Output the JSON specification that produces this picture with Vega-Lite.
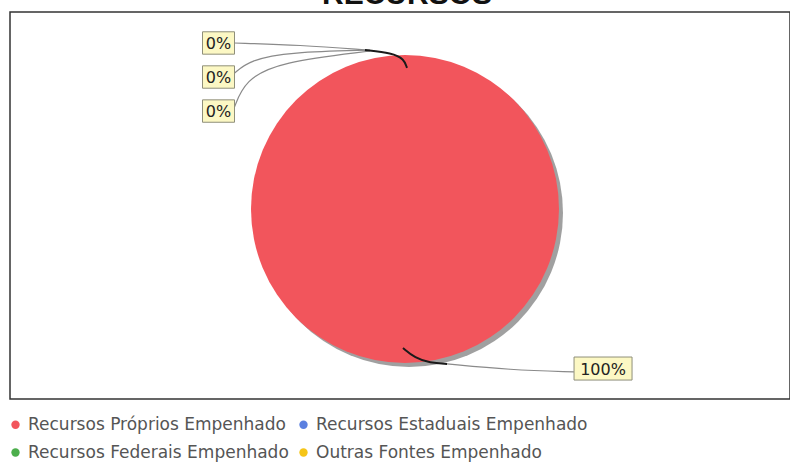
{
  "$schema": "https://vega.github.io/schema/vega-lite/v6.json",
  "autosize": {"type": "none"},
  "width": 780,
  "height": 387,
  "padding": {"left": 10, "top": 12, "right": 0, "bottom": 67},
  "background": "white",
  "config": {
    "view": {"stroke": "#333", "strokeWidth": 1.5},
    "legend": {"padding": 0}
  },
  "datasets": {
    "pie": [
      {"cat": "Recursos Próprios Empenhado", "v": 100},
      {"cat": "Recursos Estaduais Empenhado", "v": 0},
      {"cat": "Recursos Federais Empenhado", "v": 0},
      {"cat": "Outras Fontes Empenhado", "v": 0}
    ],
    "heading": [
      {"txt": "RECURSOS", "lx": 0.013, "ly": 1.331}
    ],
    "labels": [
      {"txt": "0%", "lx": -1.211, "ly": 1.078, "kind": "small"},
      {"txt": "0%", "lx": -1.211, "ly": 0.857, "kind": "small"},
      {"txt": "0%", "lx": -1.211, "ly": 0.636, "kind": "small"},
      {"txt": "100%", "lx": 1.286, "ly": -1.036, "kind": "big"}
    ],
    "links": [
      {"seg": "A", "o": 1, "lx": -1.110, "ly": 1.078, "tone": "grey"},
      {"seg": "A", "o": 2, "lx": -0.682, "ly": 1.065, "tone": "grey"},
      {"seg": "A", "o": 3, "lx": -0.247, "ly": 1.032, "tone": "grey"},
      {"seg": "B", "o": 1, "lx": -1.110, "ly": 0.880, "tone": "grey"},
      {"seg": "B", "o": 2, "lx": -1.006, "ly": 0.968, "tone": "grey"},
      {"seg": "B", "o": 3, "lx": -0.747, "ly": 1.019, "tone": "grey"},
      {"seg": "B", "o": 4, "lx": -0.227, "ly": 1.032, "tone": "grey"},
      {"seg": "C", "o": 1, "lx": -1.110, "ly": 0.655, "tone": "grey"},
      {"seg": "C", "o": 2, "lx": -1.039, "ly": 0.838, "tone": "grey"},
      {"seg": "C", "o": 3, "lx": -0.812, "ly": 0.955, "tone": "grey"},
      {"seg": "C", "o": 4, "lx": -0.227, "ly": 1.026, "tone": "grey"},
      {"seg": "F", "o": 1, "lx": 0.273, "ly": -1.006, "tone": "grey"},
      {"seg": "F", "o": 2, "lx": 0.682, "ly": -1.045, "tone": "grey"},
      {"seg": "F", "o": 3, "lx": 1.097, "ly": -1.058, "tone": "grey"},
      {"seg": "D", "o": 1, "lx": -0.260, "ly": 1.032, "tone": "dark"},
      {"seg": "D", "o": 2, "lx": -0.084, "ly": 1.013, "tone": "dark"},
      {"seg": "D", "o": 3, "lx": -0.006, "ly": 0.974, "tone": "dark"},
      {"seg": "D", "o": 4, "lx": 0.013, "ly": 0.916, "tone": "dark"},
      {"seg": "E", "o": 1, "lx": -0.013, "ly": -0.903, "tone": "dark"},
      {"seg": "E", "o": 2, "lx": 0.065, "ly": -0.968, "tone": "dark"},
      {"seg": "E", "o": 3, "lx": 0.162, "ly": -1.000, "tone": "dark"},
      {"seg": "E", "o": 4, "lx": 0.273, "ly": -1.006, "tone": "dark"}
    ]
  },
  "layer": [
    {
      "data": {"name": "pie"},
      "mark": {"type": "arc", "outerRadius": 154, "fill": "#808080", "opacity": 0.75, "xOffset": 4, "yOffset": 4},
      "encoding": {
        "x": {"datum": 0, "type": "quantitative", "scale": {"domain": [-2.5649, 2.5], "nice": false, "zero": false}, "axis": null},
        "y": {"datum": 0, "type": "quantitative", "scale": {"domain": [-1.2338, 1.2792], "nice": false, "zero": false}, "axis": null},
        "theta": {"field": "v", "type": "quantitative", "stack": true}
      }
    },
    {
      "data": {"name": "pie"},
      "mark": {"type": "arc", "outerRadius": 154},
      "encoding": {
        "x": {"datum": 0, "type": "quantitative", "scale": {"domain": [-2.5649, 2.5], "nice": false, "zero": false}, "axis": null},
        "y": {"datum": 0, "type": "quantitative", "scale": {"domain": [-1.2338, 1.2792], "nice": false, "zero": false}, "axis": null},
        "theta": {"field": "v", "type": "quantitative", "stack": true},
        "color": {
          "field": "cat",
          "type": "nominal",
          "sort": null,
          "scale": {
            "domain": ["Recursos Próprios Empenhado", "Recursos Estaduais Empenhado", "Recursos Federais Empenhado", "Outras Fontes Empenhado"],
            "range": ["#f2555c", "#5b80e0", "#4cae4c", "#f5c518"]
          },
          "legend": {
            "title": null,
            "orient": "none",
            "legendX": -3,
            "legendY": 404,
            "direction": "horizontal",
            "columns": 2,
            "columnPadding": 6,
            "rowPadding": 10,
            "symbolType": "circle",
            "symbolSize": 70,
            "symbolStrokeWidth": 0,
            "symbolOffset": 0,
            "labelFont": "DejaVu Sans",
            "labelFontSize": 17,
            "labelColor": "#555",
            "labelOffset": 4,
            "labelLimit": 400
          }
        }
      }
    },
    {
      "data": {"name": "heading"},
      "mark": {"type": "text", "font": "Liberation Sans", "fontSize": 30, "fontWeight": "bold", "color": "#111", "align": "center", "baseline": "alphabetic"},
      "encoding": {
        "x": {"field": "lx", "type": "quantitative", "scale": {"domain": [-2.5649, 2.5], "nice": false, "zero": false}, "axis": null},
        "y": {"field": "ly", "type": "quantitative", "scale": {"domain": [-1.2338, 1.2792], "nice": false, "zero": false}, "axis": null},
        "text": {"field": "txt"}
      }
    },
    {
      "data": {"name": "links"},
      "transform": [{"filter": "datum.tone === 'grey'"}],
      "mark": {"type": "line", "interpolate": "basis", "stroke": "#8a8a8a", "strokeWidth": 1.2},
      "encoding": {
        "x": {"field": "lx", "type": "quantitative", "scale": {"domain": [-2.5649, 2.5], "nice": false, "zero": false}, "axis": null},
        "y": {"field": "ly", "type": "quantitative", "scale": {"domain": [-1.2338, 1.2792], "nice": false, "zero": false}, "axis": null},
        "detail": {"field": "seg"},
        "order": {"field": "o"}
      }
    },
    {
      "data": {"name": "links"},
      "transform": [{"filter": "datum.tone === 'dark'"}],
      "mark": {"type": "line", "interpolate": "basis", "stroke": "#1a1a1a", "strokeWidth": 2},
      "encoding": {
        "x": {"field": "lx", "type": "quantitative", "scale": {"domain": [-2.5649, 2.5], "nice": false, "zero": false}, "axis": null},
        "y": {"field": "ly", "type": "quantitative", "scale": {"domain": [-1.2338, 1.2792], "nice": false, "zero": false}, "axis": null},
        "detail": {"field": "seg"},
        "order": {"field": "o"}
      }
    },
    {
      "data": {"name": "labels"},
      "transform": [{"filter": "datum.kind === 'small'"}],
      "mark": {"type": "point", "shape": "M-1,-0.7H1V0.7H-1Z", "size": 1024, "filled": true, "fill": "#fcf8c4", "stroke": "#8f8f7a", "strokeWidth": 1, "opacity": 1},
      "encoding": {
        "x": {"field": "lx", "type": "quantitative", "scale": {"domain": [-2.5649, 2.5], "nice": false, "zero": false}, "axis": null},
        "y": {"field": "ly", "type": "quantitative", "scale": {"domain": [-1.2338, 1.2792], "nice": false, "zero": false}, "axis": null}
      }
    },
    {
      "data": {"name": "labels"},
      "transform": [{"filter": "datum.kind === 'big'"}],
      "mark": {"type": "point", "shape": "M-1,-0.397H1V0.397H-1Z", "size": 3364, "filled": true, "fill": "#fcf8c4", "stroke": "#8f8f7a", "strokeWidth": 1, "opacity": 1},
      "encoding": {
        "x": {"field": "lx", "type": "quantitative", "scale": {"domain": [-2.5649, 2.5], "nice": false, "zero": false}, "axis": null},
        "y": {"field": "ly", "type": "quantitative", "scale": {"domain": [-1.2338, 1.2792], "nice": false, "zero": false}, "axis": null}
      }
    },
    {
      "data": {"name": "labels"},
      "mark": {"type": "text", "font": "DejaVu Sans", "fontSize": 16, "color": "#222", "align": "center", "baseline": "middle", "dy": 1},
      "encoding": {
        "x": {"field": "lx", "type": "quantitative", "scale": {"domain": [-2.5649, 2.5], "nice": false, "zero": false}, "axis": null},
        "y": {"field": "ly", "type": "quantitative", "scale": {"domain": [-1.2338, 1.2792], "nice": false, "zero": false}, "axis": null},
        "text": {"field": "txt"}
      }
    }
  ]
}
